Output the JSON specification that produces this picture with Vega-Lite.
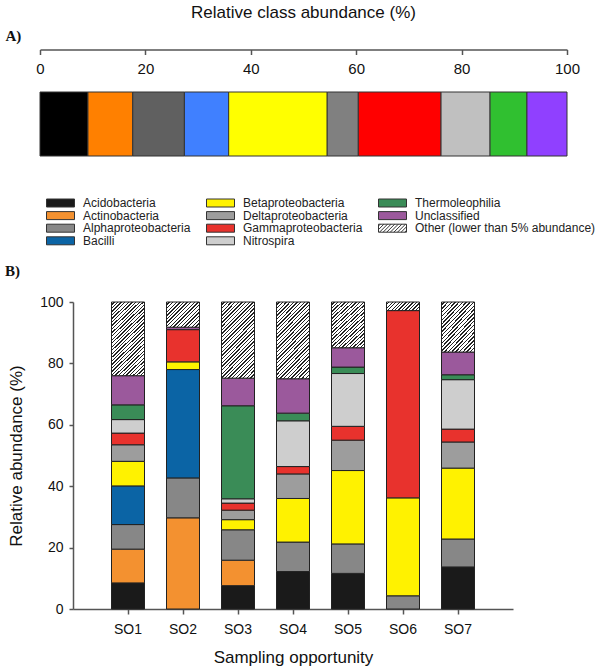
{
  "$schema": "https://vega.github.io/schema/vega-lite/v6.json",
  "padding": {"left": 5, "top": 3, "right": 0, "bottom": 3},
  "config": {
    "font": "Liberation Sans",
    "view": {"stroke": null},
    "axis": {"labelFont": "Liberation Sans", "titleFont": "Liberation Sans", "labelColor": "#111", "titleColor": "#111", "domainColor": "#555", "tickColor": "#555", "grid": false, "titleFontWeight": "normal"},
    "title": {"color": "#111"}
  },
  "datasets": {
    "overall": [
      {"cls": "Acidobacteria", "pct": 9.1, "grp": "all"},
      {"cls": "Actinobacteria", "pct": 8.5, "grp": "all"},
      {"cls": "Alphaproteobacteria", "pct": 9.8, "grp": "all"},
      {"cls": "Bacilli", "pct": 8.4, "grp": "all"},
      {"cls": "Betaproteobacteria", "pct": 18.7, "grp": "all"},
      {"cls": "Deltaproteobacteria", "pct": 5.9, "grp": "all"},
      {"cls": "Gammaproteobacteria", "pct": 15.7, "grp": "all"},
      {"cls": "Nitrospira", "pct": 9.3, "grp": "all"},
      {"cls": "Thermoleophilia", "pct": 7.0, "grp": "all"},
      {"cls": "Unclassified", "pct": 7.6, "grp": "all"}
    ],
    "samples": [
      {"SO": "SO1", "cat": "Acidobacteria", "value": 8.5},
      {"SO": "SO1", "cat": "Actinobacteria", "value": 11.0},
      {"SO": "SO1", "cat": "Alphaproteobacteria", "value": 8.0},
      {"SO": "SO1", "cat": "Bacilli", "value": 12.6},
      {"SO": "SO1", "cat": "Betaproteobacteria", "value": 8.0},
      {"SO": "SO1", "cat": "Deltaproteobacteria", "value": 5.4},
      {"SO": "SO1", "cat": "Gammaproteobacteria", "value": 3.8},
      {"SO": "SO1", "cat": "Nitrospira", "value": 4.4},
      {"SO": "SO1", "cat": "Thermoleophilia", "value": 4.8},
      {"SO": "SO1", "cat": "Unclassified", "value": 9.5},
      {"SO": "SO1", "cat": "Other (lower than 5% abundance)", "value": 24.0},
      {"SO": "SO2", "cat": "Actinobacteria", "value": 29.7},
      {"SO": "SO2", "cat": "Alphaproteobacteria", "value": 13.0},
      {"SO": "SO2", "cat": "Bacilli", "value": 35.3},
      {"SO": "SO2", "cat": "Betaproteobacteria", "value": 2.5},
      {"SO": "SO2", "cat": "Gammaproteobacteria", "value": 10.5},
      {"SO": "SO2", "cat": "Unclassified", "value": 0.8},
      {"SO": "SO2", "cat": "Other (lower than 5% abundance)", "value": 8.2},
      {"SO": "SO3", "cat": "Acidobacteria", "value": 7.6},
      {"SO": "SO3", "cat": "Actinobacteria", "value": 8.3},
      {"SO": "SO3", "cat": "Alphaproteobacteria", "value": 9.9},
      {"SO": "SO3", "cat": "Betaproteobacteria", "value": 3.3},
      {"SO": "SO3", "cat": "Deltaproteobacteria", "value": 3.1},
      {"SO": "SO3", "cat": "Gammaproteobacteria", "value": 2.3},
      {"SO": "SO3", "cat": "Nitrospira", "value": 1.4},
      {"SO": "SO3", "cat": "Thermoleophilia", "value": 30.3},
      {"SO": "SO3", "cat": "Unclassified", "value": 9.0},
      {"SO": "SO3", "cat": "Other (lower than 5% abundance)", "value": 24.8},
      {"SO": "SO4", "cat": "Acidobacteria", "value": 12.2},
      {"SO": "SO4", "cat": "Alphaproteobacteria", "value": 9.6},
      {"SO": "SO4", "cat": "Betaproteobacteria", "value": 14.2},
      {"SO": "SO4", "cat": "Deltaproteobacteria", "value": 8.0},
      {"SO": "SO4", "cat": "Gammaproteobacteria", "value": 2.4},
      {"SO": "SO4", "cat": "Nitrospira", "value": 14.9},
      {"SO": "SO4", "cat": "Thermoleophilia", "value": 2.5},
      {"SO": "SO4", "cat": "Unclassified", "value": 11.2},
      {"SO": "SO4", "cat": "Other (lower than 5% abundance)", "value": 25.0},
      {"SO": "SO5", "cat": "Acidobacteria", "value": 11.6},
      {"SO": "SO5", "cat": "Alphaproteobacteria", "value": 9.6},
      {"SO": "SO5", "cat": "Betaproteobacteria", "value": 23.9},
      {"SO": "SO5", "cat": "Deltaproteobacteria", "value": 9.9},
      {"SO": "SO5", "cat": "Gammaproteobacteria", "value": 4.5},
      {"SO": "SO5", "cat": "Nitrospira", "value": 17.2},
      {"SO": "SO5", "cat": "Thermoleophilia", "value": 2.1},
      {"SO": "SO5", "cat": "Unclassified", "value": 6.3},
      {"SO": "SO5", "cat": "Other (lower than 5% abundance)", "value": 14.9},
      {"SO": "SO6", "cat": "Alphaproteobacteria", "value": 4.3},
      {"SO": "SO6", "cat": "Betaproteobacteria", "value": 31.9},
      {"SO": "SO6", "cat": "Gammaproteobacteria", "value": 61.0},
      {"SO": "SO6", "cat": "Other (lower than 5% abundance)", "value": 2.8},
      {"SO": "SO7", "cat": "Acidobacteria", "value": 13.7},
      {"SO": "SO7", "cat": "Alphaproteobacteria", "value": 9.1},
      {"SO": "SO7", "cat": "Betaproteobacteria", "value": 23.1},
      {"SO": "SO7", "cat": "Deltaproteobacteria", "value": 8.5},
      {"SO": "SO7", "cat": "Gammaproteobacteria", "value": 4.2},
      {"SO": "SO7", "cat": "Nitrospira", "value": 16.1},
      {"SO": "SO7", "cat": "Thermoleophilia", "value": 1.6},
      {"SO": "SO7", "cat": "Unclassified", "value": 7.4},
      {"SO": "SO7", "cat": "Other (lower than 5% abundance)", "value": 16.3}
    ]
  },
  "spacing": 107,
  "vconcat": [
    {
      "width": 527,
      "height": 64,
      "data": {"name": "overall"},
      "title": {"text": "Relative class abundance (%)", "fontSize": 17, "fontWeight": "normal", "font": "Liberation Sans", "anchor": "middle", "offset": 7},
      "transform": [{"stack": "pct", "groupby": ["grp"], "as": ["x0", "x1"]}],
      "mark": {"type": "bar", "stroke": "#333", "strokeWidth": 1},
      "encoding": {
        "y": {"field": "grp", "type": "nominal", "axis": null, "scale": {"paddingInner": 0, "paddingOuter": 0}},
        "x": {"field": "x0", "type": "quantitative", "scale": {"domain": [0, 100], "nice": false},
          "axis": {"orient": "bottom", "offset": -106.5, "values": [0, 20, 40, 60, 80, 100], "tickSize": 5, "tickWidth": 1.5, "domainWidth": 1.5, "labelFontSize": 15, "labelPadding": 7, "labelFlush": false,
            "title": "A)", "titleFont": "Liberation Serif", "titleFontWeight": "bold", "titleFontSize": 15, "titleX": -35, "titleY": -14, "titleAlign": "left", "titleBaseline": "middle", "titleAngle": 0}},
        "x2": {"field": "x1"},
        "fill": {"field": "cls", "type": "nominal", "legend": null,
          "scale": {"domain": ["Acidobacteria", "Actinobacteria", "Alphaproteobacteria", "Bacilli", "Betaproteobacteria", "Deltaproteobacteria", "Gammaproteobacteria", "Nitrospira", "Thermoleophilia", "Unclassified"],
            "range": ["#000000", "#ff8000", "#606060", "#4080ff", "#ffff00", "#808080", "#ff0000", "#c0c0c0", "#30c030", "#9040ff"]}}
      }
    },
    {
      "width": 473,
      "height": 307,
      "data": {"name": "samples"},
      "title": {"text": "B)", "font": "Liberation Serif", "fontWeight": "bold", "fontSize": 15, "anchor": "start", "frame": "group", "dx": -35, "offset": 16},
      "transform": [{"stack": "value", "groupby": ["SO"], "as": ["y0", "y1"]}],
      "encoding": {
        "x": {"field": "SO", "type": "nominal", "scale": {"range": [33, 473], "paddingInner": 0.4, "paddingOuter": 0.7},
          "axis": {"labelAngle": 0, "labelFontSize": 14, "tickSize": 5, "tickWidth": 1.5, "domainWidth": 1.5, "labelPadding": 8, "title": "Sampling opportunity", "titleFontSize": 17, "titlePadding": 13}},
        "y": {"field": "y0", "type": "quantitative", "scale": {"domain": [0, 100], "nice": false},
          "axis": {"offset": -33, "values": [0, 20, 40, 60, 80, 100], "labelFontSize": 14, "tickSize": 4, "tickWidth": 1.5, "domainWidth": 1.5, "labelPadding": 6, "title": "Relative abundance (%)", "titleFontSize": 17, "titlePadding": 14}},
        "y2": {"field": "y1"}
      },
      "layer": [
        {
          "transform": [{"filter": "datum.cat !== 'Other (lower than 5% abundance)'"}],
          "mark": {"type": "bar", "stroke": "#222", "strokeWidth": 1},
          "encoding": {
            "color": {"field": "cat", "type": "nominal",
              "scale": {"domain": ["Acidobacteria", "Actinobacteria", "Alphaproteobacteria", "Bacilli", "Betaproteobacteria", "Deltaproteobacteria", "Gammaproteobacteria", "Nitrospira", "Thermoleophilia", "Unclassified", "Other (lower than 5% abundance)"],
                "range": ["#1a1a1a", "#f39130", "#878787", "#0b64a5", "#fff200", "#9d9d9d", "#e8322d", "#cecece", "#3a8c57", "#9b599c", "#ffffff"]},
              "legend": {"orient": "none", "legendX": 14.5, "legendY": 105, "columns": 3, "columnPadding": 14, "rowPadding": 0.6, "title": null, "padding": 0,
                "symbolType": {"expr": "datum.value === 'Other (lower than 5% abundance)' ? 'M-3.5,-1H3.5V1H-3.5Z M-3.5,-0.55L-3.05,-1 M-3.5,0.35L-2.15,-1 M-3.25,1L-1.25,-1 M-2.35,1L-0.35,-1 M-1.45,1L0.55,-1 M-0.55,1L1.45,-1 M0.35,1L2.35,-1 M1.25,1L3.25,-1 M2.15,1L3.5,-0.35 M3.05,1L3.5,0.55' : 'M-3.5,-1H3.5V1H-3.5Z'"},
                "symbolSize": 64, "symbolStrokeColor": "#333", "symbolStrokeWidth": 1,
                "labelFontSize": 12, "labelFont": "Liberation Sans", "labelColor": "#222", "labelOffset": 16.5, "labelLimit": 300}}
          }
        },
        {
          "transform": [{"filter": "datum.cat === 'Other (lower than 5% abundance)'"}],
          "mark": {"type": "bar", "stroke": "#222", "strokeWidth": 1},
          "encoding": {
            "fill": {
              "condition": [
                {"test": "indexof(['SO1','SO3','SO4'], datum.SO) >= 0", "value": {"gradient": "linear", "x1": 0, "y1": 0, "x2": 0.5274, "y2": 1.2067, "stops": [
                  {"offset":0,"color":"#fff"},{"offset":0.0207,"color":"#fff"},{"offset":0.0207,"color":"#222"},{"offset":0.0333,"color":"#222"},
                  {"offset":0.0333,"color":"#fff"},{"offset":0.054,"color":"#fff"},{"offset":0.054,"color":"#222"},{"offset":0.0667,"color":"#222"},
                  {"offset":0.0667,"color":"#fff"},{"offset":0.0873,"color":"#fff"},{"offset":0.0873,"color":"#222"},{"offset":0.1,"color":"#222"},
                  {"offset":0.1,"color":"#fff"},{"offset":0.1207,"color":"#fff"},{"offset":0.1207,"color":"#222"},{"offset":0.1333,"color":"#222"},
                  {"offset":0.1333,"color":"#fff"},{"offset":0.154,"color":"#fff"},{"offset":0.154,"color":"#222"},{"offset":0.1667,"color":"#222"},
                  {"offset":0.1667,"color":"#fff"},{"offset":0.1873,"color":"#fff"},{"offset":0.1873,"color":"#222"},{"offset":0.2,"color":"#222"},
                  {"offset":0.2,"color":"#fff"},{"offset":0.2207,"color":"#fff"},{"offset":0.2207,"color":"#222"},{"offset":0.2333,"color":"#222"},
                  {"offset":0.2333,"color":"#fff"},{"offset":0.254,"color":"#fff"},{"offset":0.254,"color":"#222"},{"offset":0.2667,"color":"#222"},
                  {"offset":0.2667,"color":"#fff"},{"offset":0.2873,"color":"#fff"},{"offset":0.2873,"color":"#222"},{"offset":0.3,"color":"#222"},
                  {"offset":0.3,"color":"#fff"},{"offset":0.3207,"color":"#fff"},{"offset":0.3207,"color":"#222"},{"offset":0.3333,"color":"#222"},
                  {"offset":0.3333,"color":"#fff"},{"offset":0.354,"color":"#fff"},{"offset":0.354,"color":"#222"},{"offset":0.3667,"color":"#222"},
                  {"offset":0.3667,"color":"#fff"},{"offset":0.3873,"color":"#fff"},{"offset":0.3873,"color":"#222"},{"offset":0.4,"color":"#222"},
                  {"offset":0.4,"color":"#fff"},{"offset":0.4207,"color":"#fff"},{"offset":0.4207,"color":"#222"},{"offset":0.4333,"color":"#222"},
                  {"offset":0.4333,"color":"#fff"},{"offset":0.454,"color":"#fff"},{"offset":0.454,"color":"#222"},{"offset":0.4667,"color":"#222"},
                  {"offset":0.4667,"color":"#fff"},{"offset":0.4873,"color":"#fff"},{"offset":0.4873,"color":"#222"},{"offset":0.5,"color":"#222"},
                  {"offset":0.5,"color":"#fff"},{"offset":0.5207,"color":"#fff"},{"offset":0.5207,"color":"#222"},{"offset":0.5333,"color":"#222"},
                  {"offset":0.5333,"color":"#fff"},{"offset":0.554,"color":"#fff"},{"offset":0.554,"color":"#222"},{"offset":0.5667,"color":"#222"},
                  {"offset":0.5667,"color":"#fff"},{"offset":0.5873,"color":"#fff"},{"offset":0.5873,"color":"#222"},{"offset":0.6,"color":"#222"},
                  {"offset":0.6,"color":"#fff"},{"offset":0.6207,"color":"#fff"},{"offset":0.6207,"color":"#222"},{"offset":0.6333,"color":"#222"},
                  {"offset":0.6333,"color":"#fff"},{"offset":0.654,"color":"#fff"},{"offset":0.654,"color":"#222"},{"offset":0.6667,"color":"#222"},
                  {"offset":0.6667,"color":"#fff"},{"offset":0.6873,"color":"#fff"},{"offset":0.6873,"color":"#222"},{"offset":0.7,"color":"#222"},
                  {"offset":0.7,"color":"#fff"},{"offset":0.7207,"color":"#fff"},{"offset":0.7207,"color":"#222"},{"offset":0.7333,"color":"#222"},
                  {"offset":0.7333,"color":"#fff"},{"offset":0.754,"color":"#fff"},{"offset":0.754,"color":"#222"},{"offset":0.7667,"color":"#222"},
                  {"offset":0.7667,"color":"#fff"},{"offset":0.7873,"color":"#fff"},{"offset":0.7873,"color":"#222"},{"offset":0.8,"color":"#222"},
                  {"offset":0.8,"color":"#fff"},{"offset":0.8207,"color":"#fff"},{"offset":0.8207,"color":"#222"},{"offset":0.8333,"color":"#222"},
                  {"offset":0.8333,"color":"#fff"},{"offset":0.854,"color":"#fff"},{"offset":0.854,"color":"#222"},{"offset":0.8667,"color":"#222"},
                  {"offset":0.8667,"color":"#fff"},{"offset":0.8873,"color":"#fff"},{"offset":0.8873,"color":"#222"},{"offset":0.9,"color":"#222"},
                  {"offset":0.9,"color":"#fff"},{"offset":0.9207,"color":"#fff"},{"offset":0.9207,"color":"#222"},{"offset":0.9333,"color":"#222"},
                  {"offset":0.9333,"color":"#fff"},{"offset":0.954,"color":"#fff"},{"offset":0.954,"color":"#222"},{"offset":0.9667,"color":"#222"},
                  {"offset":0.9667,"color":"#fff"},{"offset":0.9873,"color":"#fff"},{"offset":0.9873,"color":"#222"},{"offset":1,"color":"#222"}]}},
                {"test": "datum.SO === 'SO2'", "value": {"gradient": "linear", "x1": 0, "y1": 0, "x2": 1.114, "y2": 0.851, "stops": [
                  {"offset":0,"color":"#fff"},{"offset":0.0388,"color":"#fff"},{"offset":0.0388,"color":"#222"},{"offset":0.0625,"color":"#222"},
                  {"offset":0.0625,"color":"#fff"},{"offset":0.1013,"color":"#fff"},{"offset":0.1013,"color":"#222"},{"offset":0.125,"color":"#222"},
                  {"offset":0.125,"color":"#fff"},{"offset":0.1638,"color":"#fff"},{"offset":0.1638,"color":"#222"},{"offset":0.1875,"color":"#222"},
                  {"offset":0.1875,"color":"#fff"},{"offset":0.2263,"color":"#fff"},{"offset":0.2263,"color":"#222"},{"offset":0.25,"color":"#222"},
                  {"offset":0.25,"color":"#fff"},{"offset":0.2888,"color":"#fff"},{"offset":0.2888,"color":"#222"},{"offset":0.3125,"color":"#222"},
                  {"offset":0.3125,"color":"#fff"},{"offset":0.3513,"color":"#fff"},{"offset":0.3513,"color":"#222"},{"offset":0.375,"color":"#222"},
                  {"offset":0.375,"color":"#fff"},{"offset":0.4138,"color":"#fff"},{"offset":0.4138,"color":"#222"},{"offset":0.4375,"color":"#222"},
                  {"offset":0.4375,"color":"#fff"},{"offset":0.4763,"color":"#fff"},{"offset":0.4763,"color":"#222"},{"offset":0.5,"color":"#222"},
                  {"offset":0.5,"color":"#fff"},{"offset":0.5388,"color":"#fff"},{"offset":0.5388,"color":"#222"},{"offset":0.5625,"color":"#222"},
                  {"offset":0.5625,"color":"#fff"},{"offset":0.6013,"color":"#fff"},{"offset":0.6013,"color":"#222"},{"offset":0.625,"color":"#222"},
                  {"offset":0.625,"color":"#fff"},{"offset":0.6638,"color":"#fff"},{"offset":0.6638,"color":"#222"},{"offset":0.6875,"color":"#222"},
                  {"offset":0.6875,"color":"#fff"},{"offset":0.7263,"color":"#fff"},{"offset":0.7263,"color":"#222"},{"offset":0.75,"color":"#222"},
                  {"offset":0.75,"color":"#fff"},{"offset":0.7888,"color":"#fff"},{"offset":0.7888,"color":"#222"},{"offset":0.8125,"color":"#222"},
                  {"offset":0.8125,"color":"#fff"},{"offset":0.8513,"color":"#fff"},{"offset":0.8513,"color":"#222"},{"offset":0.875,"color":"#222"},
                  {"offset":0.875,"color":"#fff"},{"offset":0.9138,"color":"#fff"},{"offset":0.9138,"color":"#222"},{"offset":0.9375,"color":"#222"},
                  {"offset":0.9375,"color":"#fff"},{"offset":0.9763,"color":"#fff"},{"offset":0.9763,"color":"#222"},{"offset":1,"color":"#222"}]}},
                {"test": "datum.SO === 'SO6'", "value": {"gradient": "linear", "x1": 0, "y1": 0, "x2": 1.1804, "y2": 0.3076, "stops": [
                  {"offset":0,"color":"#fff"},{"offset":0.0517,"color":"#fff"},{"offset":0.0517,"color":"#222"},{"offset":0.0833,"color":"#222"},
                  {"offset":0.0833,"color":"#fff"},{"offset":0.135,"color":"#fff"},{"offset":0.135,"color":"#222"},{"offset":0.1667,"color":"#222"},
                  {"offset":0.1667,"color":"#fff"},{"offset":0.2183,"color":"#fff"},{"offset":0.2183,"color":"#222"},{"offset":0.25,"color":"#222"},
                  {"offset":0.25,"color":"#fff"},{"offset":0.3017,"color":"#fff"},{"offset":0.3017,"color":"#222"},{"offset":0.3333,"color":"#222"},
                  {"offset":0.3333,"color":"#fff"},{"offset":0.385,"color":"#fff"},{"offset":0.385,"color":"#222"},{"offset":0.4167,"color":"#222"},
                  {"offset":0.4167,"color":"#fff"},{"offset":0.4683,"color":"#fff"},{"offset":0.4683,"color":"#222"},{"offset":0.5,"color":"#222"},
                  {"offset":0.5,"color":"#fff"},{"offset":0.5517,"color":"#fff"},{"offset":0.5517,"color":"#222"},{"offset":0.5833,"color":"#222"},
                  {"offset":0.5833,"color":"#fff"},{"offset":0.635,"color":"#fff"},{"offset":0.635,"color":"#222"},{"offset":0.6667,"color":"#222"},
                  {"offset":0.6667,"color":"#fff"},{"offset":0.7183,"color":"#fff"},{"offset":0.7183,"color":"#222"},{"offset":0.75,"color":"#222"},
                  {"offset":0.75,"color":"#fff"},{"offset":0.8017,"color":"#fff"},{"offset":0.8017,"color":"#222"},{"offset":0.8333,"color":"#222"},
                  {"offset":0.8333,"color":"#fff"},{"offset":0.885,"color":"#fff"},{"offset":0.885,"color":"#222"},{"offset":0.9167,"color":"#222"},
                  {"offset":0.9167,"color":"#fff"},{"offset":0.9683,"color":"#fff"},{"offset":0.9683,"color":"#222"},{"offset":1,"color":"#222"}]}}
              ],
              "value": {"gradient": "linear", "x1": 0, "y1": 0, "x2": 0.7878, "y2": 1.1459, "stops": [
                {"offset":0,"color":"#fff"},{"offset":0.0282,"color":"#fff"},{"offset":0.0282,"color":"#222"},{"offset":0.0455,"color":"#222"},
                {"offset":0.0455,"color":"#fff"},{"offset":0.0736,"color":"#fff"},{"offset":0.0736,"color":"#222"},{"offset":0.0909,"color":"#222"},
                {"offset":0.0909,"color":"#fff"},{"offset":0.1191,"color":"#fff"},{"offset":0.1191,"color":"#222"},{"offset":0.1364,"color":"#222"},
                {"offset":0.1364,"color":"#fff"},{"offset":0.1645,"color":"#fff"},{"offset":0.1645,"color":"#222"},{"offset":0.1818,"color":"#222"},
                {"offset":0.1818,"color":"#fff"},{"offset":0.21,"color":"#fff"},{"offset":0.21,"color":"#222"},{"offset":0.2273,"color":"#222"},
                {"offset":0.2273,"color":"#fff"},{"offset":0.2555,"color":"#fff"},{"offset":0.2555,"color":"#222"},{"offset":0.2727,"color":"#222"},
                {"offset":0.2727,"color":"#fff"},{"offset":0.3009,"color":"#fff"},{"offset":0.3009,"color":"#222"},{"offset":0.3182,"color":"#222"},
                {"offset":0.3182,"color":"#fff"},{"offset":0.3464,"color":"#fff"},{"offset":0.3464,"color":"#222"},{"offset":0.3636,"color":"#222"},
                {"offset":0.3636,"color":"#fff"},{"offset":0.3918,"color":"#fff"},{"offset":0.3918,"color":"#222"},{"offset":0.4091,"color":"#222"},
                {"offset":0.4091,"color":"#fff"},{"offset":0.4373,"color":"#fff"},{"offset":0.4373,"color":"#222"},{"offset":0.4545,"color":"#222"},
                {"offset":0.4545,"color":"#fff"},{"offset":0.4827,"color":"#fff"},{"offset":0.4827,"color":"#222"},{"offset":0.5,"color":"#222"},
                {"offset":0.5,"color":"#fff"},{"offset":0.5282,"color":"#fff"},{"offset":0.5282,"color":"#222"},{"offset":0.5455,"color":"#222"},
                {"offset":0.5455,"color":"#fff"},{"offset":0.5736,"color":"#fff"},{"offset":0.5736,"color":"#222"},{"offset":0.5909,"color":"#222"},
                {"offset":0.5909,"color":"#fff"},{"offset":0.6191,"color":"#fff"},{"offset":0.6191,"color":"#222"},{"offset":0.6364,"color":"#222"},
                {"offset":0.6364,"color":"#fff"},{"offset":0.6645,"color":"#fff"},{"offset":0.6645,"color":"#222"},{"offset":0.6818,"color":"#222"},
                {"offset":0.6818,"color":"#fff"},{"offset":0.71,"color":"#fff"},{"offset":0.71,"color":"#222"},{"offset":0.7273,"color":"#222"},
                {"offset":0.7273,"color":"#fff"},{"offset":0.7555,"color":"#fff"},{"offset":0.7555,"color":"#222"},{"offset":0.7727,"color":"#222"},
                {"offset":0.7727,"color":"#fff"},{"offset":0.8009,"color":"#fff"},{"offset":0.8009,"color":"#222"},{"offset":0.8182,"color":"#222"},
                {"offset":0.8182,"color":"#fff"},{"offset":0.8464,"color":"#fff"},{"offset":0.8464,"color":"#222"},{"offset":0.8636,"color":"#222"},
                {"offset":0.8636,"color":"#fff"},{"offset":0.8918,"color":"#fff"},{"offset":0.8918,"color":"#222"},{"offset":0.9091,"color":"#222"},
                {"offset":0.9091,"color":"#fff"},{"offset":0.9373,"color":"#fff"},{"offset":0.9373,"color":"#222"},{"offset":0.9545,"color":"#222"},
                {"offset":0.9545,"color":"#fff"},{"offset":0.9827,"color":"#fff"},{"offset":0.9827,"color":"#222"},{"offset":1,"color":"#222"}]}
            }
          }
        }
      ]
    }
  ]
}
